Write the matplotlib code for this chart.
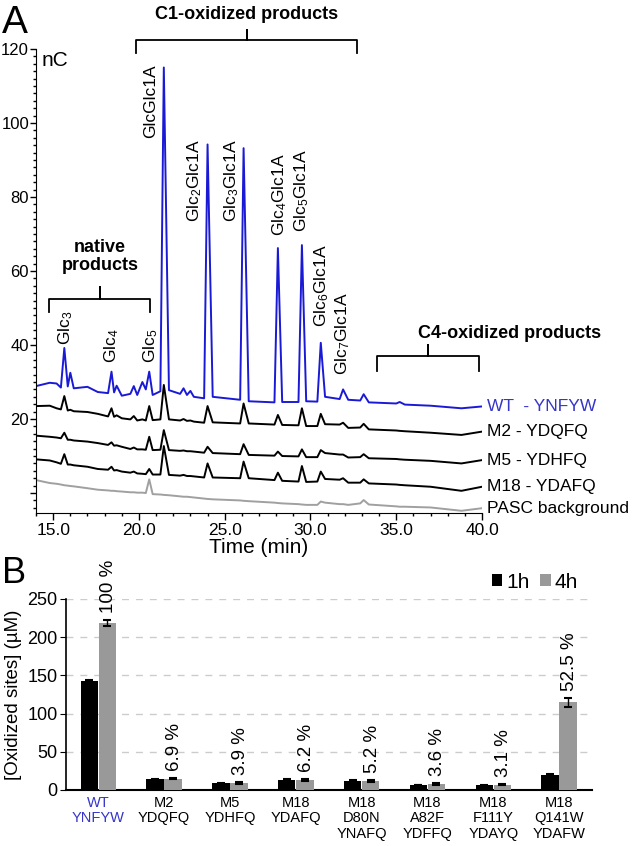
import numpy as np
import matplotlib
matplotlib.use('Agg')
import matplotlib.pyplot as plt
from matplotlib.ticker import MultipleLocator, FormatStrFormatter

plt.rcParams['font.family'] = ['Liberation Sans', 'DejaVu Sans']
plt.rcParams['mathtext.fontset'] = 'custom'
plt.rcParams['mathtext.rm'] = 'Liberation Sans'
plt.rcParams['mathtext.it'] = 'Liberation Sans:italic'
plt.rcParams['mathtext.bf'] = 'Liberation Sans:bold'

# ---------------- Panel A : HPAEC chromatograms ----------------
time = [14.0, 14.8, 15.2, 15.45, 15.65, 15.85, 16.0, 16.2, 17.0, 17.6,
        18.2, 18.4, 18.55, 18.7, 19.0, 19.5, 19.7, 19.9, 20.2, 20.4,
        20.6, 20.8, 21.25, 21.45, 21.75, 22.4, 22.6, 22.8, 23.0, 23.2,
        23.8, 24.0, 24.3, 25.9, 26.1, 26.4, 27.9, 28.1, 28.35, 29.3,
        29.5, 29.75, 30.4, 30.6, 30.85, 31.7, 31.9, 32.2, 32.9, 33.1,
        33.4, 35.0, 35.2, 35.5, 37.0, 38.8, 40.0]

wt = [28.9, 29.8, 29.6, 28.5, 39.2, 28.8, 32.5, 28.3, 28.7, 27.3,
      27.0, 32.8, 27.2, 29.0, 26.3, 26.8, 28.9, 26.5, 30.0, 28.0,
      32.8, 26.5, 27.5, 115.0, 27.8, 26.8, 28.3, 26.5, 27.6, 26.0,
      25.6, 94.2, 26.0, 25.2, 93.2, 24.8, 24.5, 66.2, 24.6, 24.6,
      67.0, 24.8, 24.7, 40.6, 26.0, 25.4, 28.0, 25.2, 25.0, 26.7,
      24.5, 24.2, 24.6, 23.9, 23.6, 22.9, 23.4]

m2 = [23.5, 23.6, 22.9, 22.6, 26.2, 22.3, 22.5, 22.1, 21.9, 21.4,
      20.7, 22.9, 20.6, 21.0, 20.2, 19.9, 20.8, 19.6, 19.9, 19.6,
      23.5, 19.7, 19.9, 29.2, 19.9, 19.6, 20.0, 19.5, 19.6, 19.3,
      19.0, 23.5, 19.1, 18.8, 24.2, 18.8, 18.5, 21.1, 18.4, 18.3,
      22.9, 18.1, 18.1, 21.4, 18.6, 18.5, 19.0, 17.6, 17.7, 18.7,
      17.2, 16.9, 16.8, 16.7, 16.3, 15.7, 16.6]

m5 = [15.5, 15.2, 15.0, 14.8, 16.3, 14.4, 14.4, 14.2, 13.9, 13.5,
      13.0, 13.7, 12.8, 12.9, 12.5, 11.9, 12.3, 11.8, 11.8, 11.7,
      15.2, 11.6, 11.7, 17.0, 11.6, 11.4, 11.5, 11.3, 11.3, 11.2,
      10.9, 12.5, 10.8, 10.5, 13.2, 10.3, 10.1, 11.2, 10.0, 9.9,
      11.8, 9.7, 9.7, 11.6, 10.8, 10.4, 10.4, 9.6, 9.7, 10.5,
      9.4, 9.2, 9.1, 9.0, 8.7, 8.0, 8.9]

m18 = [9.1, 8.8, 8.3, 7.9, 10.5, 7.7, 7.7, 7.5, 7.1, 6.5,
       6.3, 7.1, 6.1, 6.2, 5.8, 5.5, 5.8, 5.3, 5.2, 5.1,
       6.5, 5.0, 5.0, 12.7, 4.9, 4.7, 4.9, 4.6, 4.6, 4.5,
       4.2, 8.0, 4.2, 4.0, 8.5, 4.0, 3.5, 5.5, 3.3, 3.1,
       7.3, 3.0, 3.1, 5.8, 3.8, 3.6, 4.0, 2.8, 2.8, 3.7,
       2.6, 2.3, 2.2, 2.1, 1.7, 0.6, 1.7]

pasc = [3.5, 2.7, 2.5, 2.3, 2.1, 2.0, 1.9, 1.8, 1.3, 0.9,
        0.7, 0.6, 0.6, 0.5, 0.4, 0.2, 0.2, 0.1, 0.1, 0.0,
        3.7, -0.3, -0.4, -0.5, -0.6, -0.9, -1.0, -1.0, -1.1, -1.2,
        -1.5, -1.6, -1.7, -2.0, -2.1, -2.2, -2.6, -2.7, -2.8, -3.0,
        -3.1, -3.2, -3.2, -2.3, -2.6, -3.0, -3.0, -3.2, -2.8, -1.9,
        -3.1, -3.6, -3.7, -3.7, -3.9, -4.8, -4.1]

traces = [wt, m2, m5, m18, pasc]
trace_names = ['WT  - YNFYW', 'M2 - YDQFQ', 'M5 - YDHFQ', 'M18 - YDAFQ', 'PASC background']
trace_colors = ['#1a1ad6', 'black', 'black', 'black', '#a0a0a0']
name_colors = ['#3535c8', 'black', 'black', 'black', 'black']

peak_labels = [r'Glc$_\mathregular{3}$', r'Glc$_\mathregular{4}$', r'Glc$_\mathregular{5}$',
               'GlcGlc1A', r'Glc$_\mathregular{2}$Glc1A', r'Glc$_\mathregular{3}$Glc1A',
               r'Glc$_\mathregular{4}$Glc1A', r'Glc$_\mathregular{5}$Glc1A',
               r'Glc$_\mathregular{6}$Glc1A', r'Glc$_\mathregular{7}$Glc1A']
peak_label_x = [15.7, 18.43, 20.7, 20.7, 23.26, 25.4, 28.2, 29.5, 30.64, 31.86]
peak_label_y = [40.0, 35.1, 35.1, 96.0, 73.2, 73.2, 69.5, 70.5, 44.9, 31.9]

# ---------------- Panel B : oxidized sites ----------------
variants = ['WT\nYNFYW', 'M2\nYDQFQ', 'M5\nYDHFQ', 'M18\nYDAFQ',
            'M18\nD80N\nYNAFQ', 'M18\nA82F\nYDFFQ', 'M18\nF111Y\nYDAYQ', 'M18\nQ141W\nYDAFW']
sites_1h = [143, 14, 9, 13, 12, 6.5, 6, 20]
err_1h = [1.5, 0.8, 0.6, 0.8, 0.8, 0.5, 0.5, 1.0]
sites_4h = [218, 15, 9, 13.5, 11.5, 8, 7, 115]
err_4h = [4, 1.2, 1.2, 1.2, 1.2, 1.0, 1.0, 6]
percent = ['100 %', '6.9 %', '3.9 %', '6.2 %', '5.2 %', '3.6 %', '3.1 %', '52.5 %']

fig = plt.figure(figsize=(6.33, 8.46), dpi=100)

# ----- A -----
ax = fig.add_axes([0.0569, 0.3936, 0.7046, 0.5485])
for tr, c in zip(traces, trace_colors):
    ax.plot(time, tr, color=c, lw=1.4)
ax.set_xlim(14.0, 40.0)
ax.set_ylim(-5.4, 120)
ax.spines['top'].set_visible(False)
ax.spines['right'].set_visible(False)
ax.set_xticks(np.arange(15, 41, 5))
ax.xaxis.set_major_formatter(FormatStrFormatter('%.1f'))
ax.xaxis.set_minor_locator(MultipleLocator(1))
ax.set_yticks(np.arange(0, 121, 20))
ax.set_yticklabels([''] + [str(v) for v in range(20, 121, 20)])
ax.yaxis.set_minor_locator(MultipleLocator(2))
ax.tick_params(axis='x', labelsize=12.5, length=5, width=1, pad=2)
ax.tick_params(axis='y', labelsize=12, length=4, width=1, pad=1)
ax.tick_params(which='minor', length=2.5, width=1)
ax.set_xlabel('Time (min)', fontsize=15, labelpad=0)
ax.text(14.3, 117, 'nC', fontsize=15, va='center', ha='left')

for name, tr, c in zip(trace_names, traces, name_colors):
    ax.text(40.3, tr[-1], name, color=c, fontsize=12.5, va='center', ha='left', clip_on=False)

for lab, x, y in zip(peak_labels, peak_label_x, peak_label_y):
    ax.text(x, y, lab, rotation=90, ha='center', va='bottom', fontsize=12.5)

def bracket(x0, x1, xm, yb, yh, yt):
    ax.plot([x0, x0, xm, xm, xm, x1, x1], [yb, yh, yh, yt, yh, yh, yb],
            color='black', lw=1.3, clip_on=False, solid_joinstyle='round')

bracket(19.83, 32.73, 26.28, 118.9, 122.4, 125.1)
ax.text(26.3, 129.3, 'C1-oxidized products', fontsize=13, fontweight='bold',
        ha='center', va='center')
bracket(14.77, 20.64, 17.73, 48.9, 52.4, 55.7)
ax.text(17.73, 63.9, 'native\nproducts', fontsize=13, fontweight='bold',
        ha='center', va='center', linespacing=1.1)
bracket(33.9, 39.83, 36.86, 33.0, 37.0, 40.0)
ax.text(41.6, 43.2, 'C4-oxidized products', fontsize=13, fontweight='bold',
        ha='center', va='center')

fig.text(0.003, 0.994, 'A', fontsize=28, va='top', ha='left')

# ----- B -----
bx = fig.add_axes([0.1043, 0.0662, 0.8310, 0.2258])
x = np.arange(len(variants))
w = 0.265
bx.bar(x - 0.137, sites_1h, w, color='black', label='1h', zorder=3)
bx.bar(x + 0.137, sites_4h, w, color='#999999', label='4h', zorder=3)
bx.errorbar(x - 0.137, sites_1h, yerr=err_1h, fmt='none', ecolor='black',
            elinewidth=1, capsize=3, capthick=1.5, zorder=4)
bx.errorbar(x + 0.137, sites_4h, yerr=err_4h, fmt='none', ecolor='black',
            elinewidth=1, capsize=3, capthick=1.5, zorder=4)
for xi, s, e, p in zip(x, sites_4h, err_4h, percent):
    bx.text(xi + 0.16, s + e + 9, p, rotation=90, ha='center', va='bottom', fontsize=13.5)

bx.set_xlim(-0.49, 7.5)
bx.set_ylim(0, 250)
bx.set_yticks(np.arange(0, 251, 50))
bx.yaxis.grid(True, linestyle=(0, (5, 5)), color='#cccccc', lw=1)
bx.set_axisbelow(True)
bx.spines['top'].set_visible(False)
bx.spines['right'].set_visible(False)
bx.spines['left'].set_linewidth(1.2)
bx.spines['bottom'].set_linewidth(1.5)
bx.set_xticks(x)
bx.set_xticklabels(variants, fontsize=10.5, linespacing=1.15)
bx.get_xticklabels()[0].set_color('#3535c8')
bx.tick_params(axis='x', length=0, pad=4)
bx.tick_params(axis='y', labelsize=13, length=4, pad=2)
bx.set_ylabel('[Oxidized sites] (µM)', fontsize=13.5, labelpad=4)
bx.legend(loc='center right', bbox_to_anchor=(0.93, 0.312), bbox_transform=fig.transFigure,
          ncol=2, frameon=False, fontsize=15, handlelength=0.5, handleheight=0.5,
          handletextpad=0.2, columnspacing=0.5, borderpad=0)

fig.text(0.003, 0.343, 'B', fontsize=26, va='top', ha='left')

fig.savefig('out.png', dpi=100)
